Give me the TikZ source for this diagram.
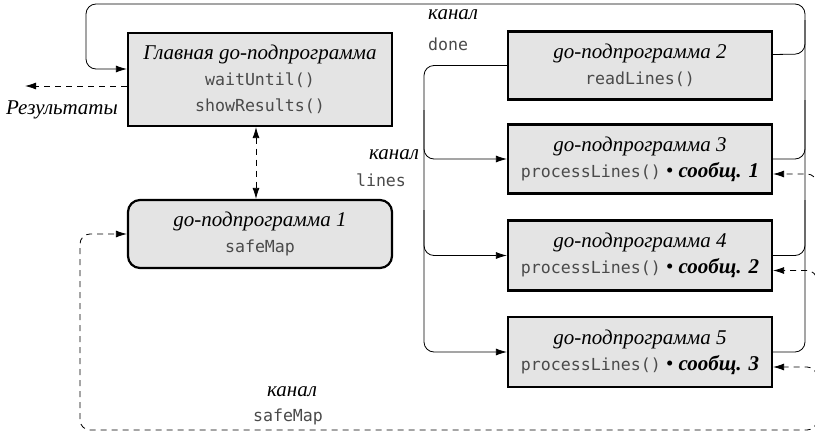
\documentclass[tikz,border=0pt]{standalone}
\usepackage{fontspec}
\setmainfont{Liberation Serif}
\newfontfamily\monof{DejaVu Sans Mono}
\usetikzlibrary{arrows.meta}
\definecolor{boxgray}{HTML}{E4E4E4}
\definecolor{monogray}{HTML}{4A4A4A}
\newcommand{\mf}[1]{{\monof\fontsize{16.6}{25}\selectfont\color{monogray}#1}}
\begin{document}
\begin{tikzpicture}[x=1pt,y=-1pt,
  gbox/.style={draw=black, line width=2.2pt, fill=boxgray, minimum width=264pt,
    inner sep=0pt, align=center, font=\fontsize{21}{26}\selectfont},
  lbl/.style={inner sep=0pt, font=\fontsize{21}{24}\selectfont},
  conn/.style={line width=0.8pt, rounded corners=10pt},
  dconn/.style={line width=0.8pt, dashed, dash pattern=on 6pt off 5pt, rounded corners=10pt},
  tip/.style={-{Latex[length=11pt,width=7pt]}}
]
\useasboundingbox (0,0) rectangle (815,434);
\clip (0,0) rectangle (815,434);

\node[gbox, minimum height=93pt] (main) at (260,79.5)
  {\itshape Главная go-подпрограмма\\ \mf{waitUntil()}\\ \mf{showResults()}};
\node[gbox, minimum height=68pt, rounded corners=12pt] (b1) at (260,234)
  {\itshape go-подпрограмма 1\\ \mf{safeMap}};
\node[gbox, minimum height=68pt] (b2) at (640,65.5)
  {\itshape go-подпрограмма 2\\ \mf{readLines()}};
\node[gbox, minimum height=69pt] (b3) at (640,159)
  {\itshape go-подпрограмма 3\\ \mf{processLines()} • {\bfseries\itshape сообщ. 1}};
\node[gbox, minimum height=70pt] (b4) at (640,255.5)
  {\itshape go-подпрограмма 4\\ \mf{processLines()} • {\bfseries\itshape сообщ. 2}};
\node[gbox, minimum height=70pt] (b5) at (640,352)
  {\itshape go-подпрограмма 5\\ \mf{processLines()} • {\bfseries\itshape сообщ. 3}};

% labels
\node[lbl, anchor=west] (lk1) at (428,15) {\itshape канал};
\node[lbl, anchor=west] (ld1) at (428,44) {\mf{done}};
\node[lbl] (lk2) at (394,155) {\itshape канал};
\node[lbl] (ll2) at (381,180) {\mf{lines}};
\node[lbl] (lk3) at (292,392) {\itshape канал};
\node[lbl] (ls3) at (288,417) {\mf{safeMap}};
\node[lbl] (res) at (62,110) {\itshape Результаты};

% done channel
\coordinate (dR) at (805,4);
\coordinate (dL) at (86,4);
\draw[conn, tip] (b5.east) -- (805,352) -- (dR) -- (dL) -- (86,69) -- ([yshift=10.5pt]main.west);
\draw[conn] ([yshift=11pt]b2.east) -- (805,54) -- (805,20);
\draw[conn] (b3.east) -- (805,159) -- (805,100);
\draw[conn] (b4.east) -- (805,255.5) -- (805,200);

% lines channel
\draw[conn, tip] (b2.west) -- (424,65.5) -- (424,352) -- (b5.west);
\draw[conn, tip] (424,110) -- (424,159) -- (b3.west);
\draw[conn, tip] (424,210) -- (424,255.5) -- (b4.west);

% results
\coordinate (resEnd) at (25,86);
\draw[dconn, tip] ([yshift=-6.5pt]main.west) -- (resEnd);

% main <-> b1
\draw[dconn, {Latex[length=11pt,width=7pt]}-{Latex[length=11pt,width=7pt]}] ([xshift=-4pt]main.south) -- ([xshift=-4pt]b1.north);

% safeMap channel
\draw[dconn, tip] (817,300) -- (817,430) -- (80,430) -- (80,234) -- (b1.west);
\draw[dconn, tip] (817,220) -- (817,174) -- ([yshift=-15pt]b3.east);
\draw[dconn, tip] (817,320) -- (817,270.5) -- ([yshift=-15pt]b4.east);
\draw[dconn, tip] (817,420) -- (817,367) -- ([yshift=-15pt]b5.east);
\end{tikzpicture}
\end{document}
